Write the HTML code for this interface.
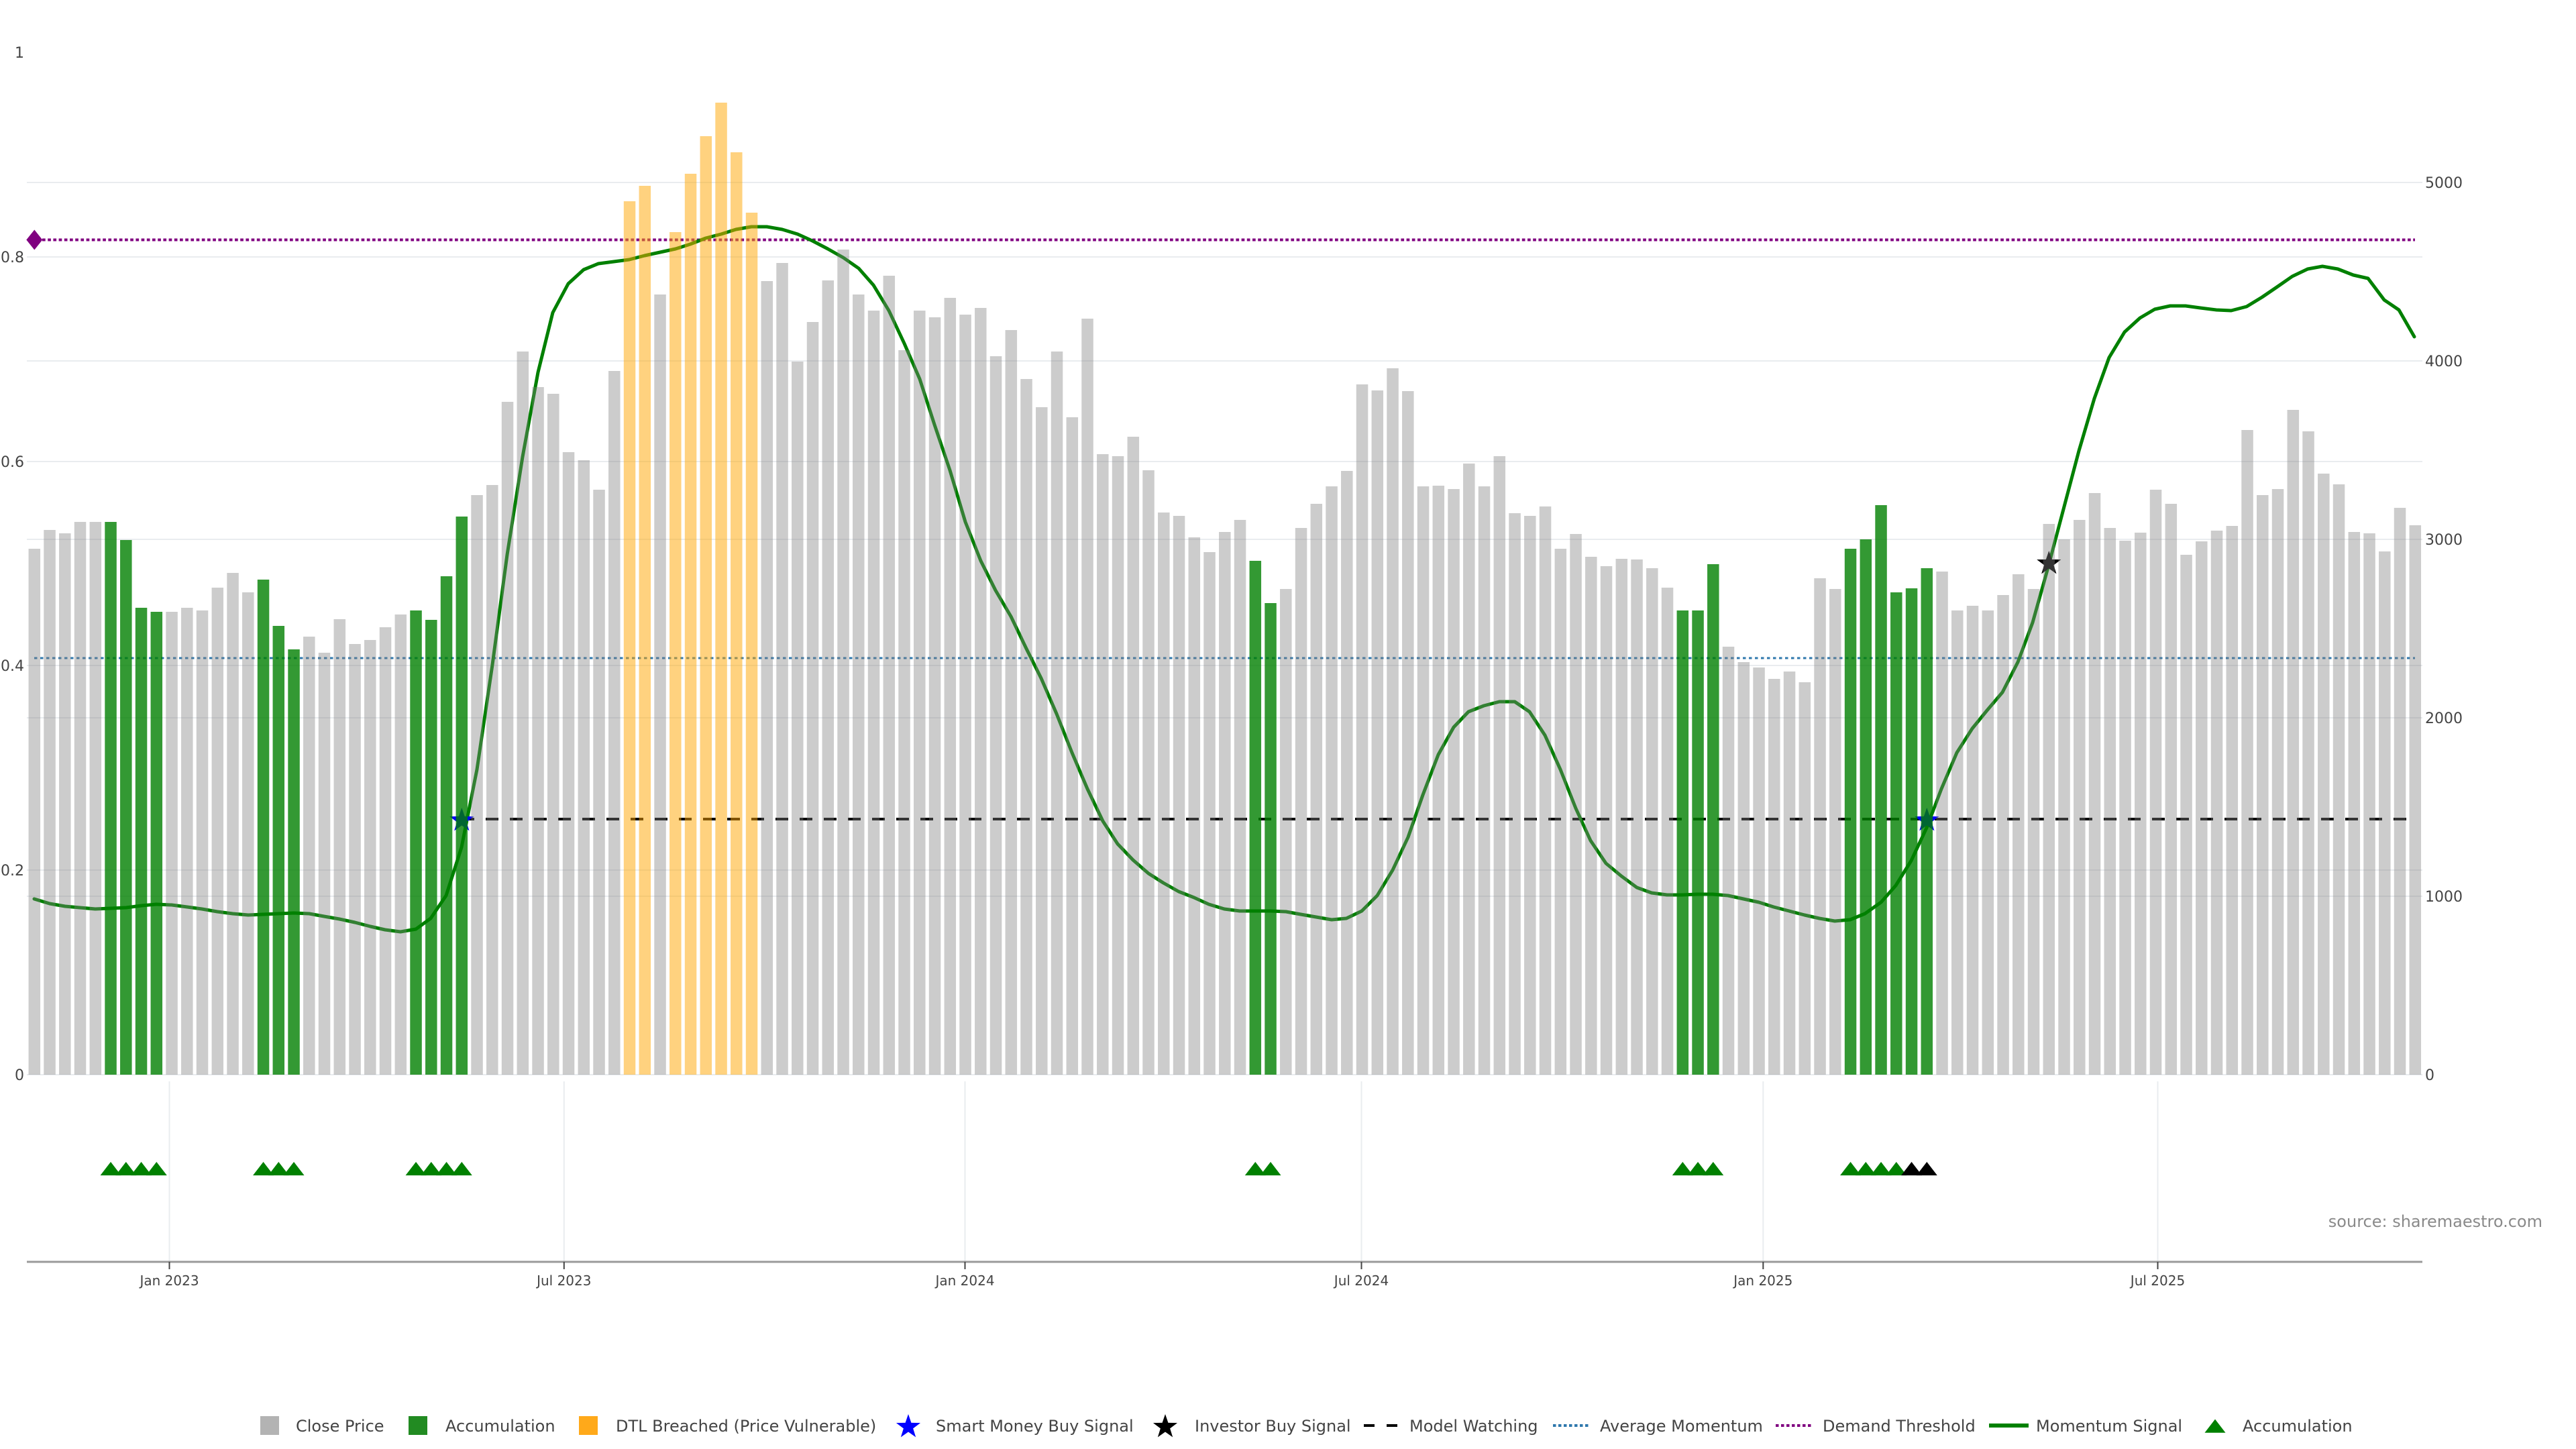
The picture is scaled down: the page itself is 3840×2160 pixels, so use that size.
<!DOCTYPE html>
<html><head><meta charset="utf-8"><style>
html,body{margin:0;padding:0;background:#fff;}
svg{display:block;font-family:"DejaVu Sans","Liberation Sans",sans-serif;}
</style></head><body>
<svg width="3840" height="2160" viewBox="0 0 3840 2160" xmlns="http://www.w3.org/2000/svg">
<rect width="3840" height="2160" fill="#fff"/>
<!-- gridlines -->
<g stroke="#e9ecef" stroke-width="2">
<line x1="40" x2="3611" y1="1602" y2="1602"/>
<line x1="40" x2="3611" y1="1297" y2="1297"/>
<line x1="40" x2="3611" y1="992" y2="992"/>
<line x1="40" x2="3611" y1="688" y2="688"/>
<line x1="40" x2="3611" y1="383" y2="383"/>
<line x1="40" x2="3611" y1="1336" y2="1336"/>
<line x1="40" x2="3611" y1="1070" y2="1070"/>
<line x1="40" x2="3611" y1="804" y2="804"/>
<line x1="40" x2="3611" y1="538" y2="538"/>
<line x1="40" x2="3611" y1="272" y2="272"/>
<line x1="252.5" x2="252.5" y1="1612" y2="1881"/>
<line x1="840.8" x2="840.8" y1="1612" y2="1881"/>
<line x1="1438.5" x2="1438.5" y1="1612" y2="1881"/>
<line x1="2029.5" x2="2029.5" y1="1612" y2="1881"/>
<line x1="2628.3" x2="2628.3" y1="1612" y2="1881"/>
<line x1="3216.5" x2="3216.5" y1="1612" y2="1881"/>
</g>
<!-- horizontal reference lines -->
<line x1="63" x2="3600" y1="357.5" y2="357.5" stroke="#800080" stroke-width="4" stroke-dasharray="4.7 3.5"/>
<line x1="51" x2="3600" y1="981" y2="981" stroke="#2f78ad" stroke-width="3" stroke-dasharray="4.5 4.5"/>
<line x1="688" x2="3600" y1="1221" y2="1221" stroke="#000" stroke-width="4" stroke-dasharray="19 17"/>
<!-- momentum line -->
<polyline fill="none" stroke="#008000" stroke-width="5" stroke-linejoin="round" stroke-linecap="round" points="51,1340 74,1347 97,1351 119,1353 142,1355 165,1354 188,1353 211,1350 233,1348 256,1349 279,1352 301,1355 324,1359 347,1362 370,1364 392,1363 415,1362 438,1361 461,1362 483,1366 506,1370 529,1375 552,1381 574,1386 597,1389 620,1385 642,1369 665,1335 688,1263 711,1147 734,991 756,827 779,681 802,555 824,466 847,423 870,402 892,393 915,390 938,387 961,381 984,376 1007,371 1029,364 1052,355 1075,349 1097,342 1120,338 1143,338 1166,342 1189,349 1211,359 1234,371 1257,384 1280,400 1302,425 1325,463 1348,512 1371,565 1393,633 1416,701 1439,778 1462,836 1484,880 1507,919 1530,967 1552,1011 1575,1064 1598,1122 1621,1176 1644,1224 1666,1258 1689,1282 1712,1302 1734,1316 1757,1329 1780,1338 1802,1348 1825,1355 1848,1358 1871,1358 1894,1358 1917,1359 1939,1363 1962,1367 1985,1371 2007,1369 2030,1358 2053,1335 2076,1297 2099,1248 2121,1185 2144,1125 2167,1084 2189,1061 2212,1052 2235,1046 2258,1046 2280,1061 2303,1096 2326,1147 2349,1205 2371,1253 2394,1287 2417,1306 2440,1323 2462,1331 2485,1334 2508,1334 2530,1333 2553,1333 2576,1335 2599,1340 2622,1345 2644,1352 2667,1358 2690,1364 2712,1369 2735,1373 2758,1371 2780,1362 2804,1345 2826,1320 2849,1283 2872,1234 2894,1176 2917,1122 2940,1086 2962,1059 2985,1032 3008,987 3030,928 3053,846 3076,759 3099,672 3122,594 3144,533 3167,495 3190,474 3212,461 3235,456 3258,456 3280,459 3304,462 3326,463 3349,457 3372,443 3394,428 3417,412 3440,401 3462,397 3485,401 3508,410 3530,415 3554,447 3576,462 3599,502"/>
<!-- markers -->
<path d="M0,-15 L12,0 L0,15 L-12,0 Z" transform="translate(51.3,357.5)" fill="#800080"/>
<path d="M0,-19 L4.41,-6.07 L18.07,-5.87 L7.13,2.32 L11.17,15.37 L0,7.5 L-11.17,15.37 L-7.13,2.32 L-18.07,-5.87 L-4.41,-6.07 Z" transform="translate(688.3,1223)" fill="#0000ff"/>
<path d="M0,-19 L4.41,-6.07 L18.07,-5.87 L7.13,2.32 L11.17,15.37 L0,7.5 L-11.17,15.37 L-7.13,2.32 L-18.07,-5.87 L-4.41,-6.07 Z" transform="translate(2872.3,1223)" fill="#0000ff"/>
<path d="M0,-19 L4.41,-6.07 L18.07,-5.87 L7.13,2.32 L11.17,15.37 L0,7.5 L-11.17,15.37 L-7.13,2.32 L-18.07,-5.87 L-4.41,-6.07 Z" transform="translate(3054.3,840)" fill="#000"/>
<!-- gray bars -->
<g fill="#808080" fill-opacity="0.4">
<rect x="42.55" y="818" width="17.5" height="784"/>
<rect x="65.3" y="790" width="17.5" height="812"/>
<rect x="88.05" y="795" width="17.5" height="807"/>
<rect x="110.8" y="778" width="17.5" height="824"/>
<rect x="133.55" y="778" width="17.5" height="824"/>
<rect x="247.3" y="912" width="17.5" height="690"/>
<rect x="270.05" y="906" width="17.5" height="696"/>
<rect x="292.8" y="910" width="17.5" height="692"/>
<rect x="315.55" y="876" width="17.5" height="726"/>
<rect x="338.3" y="854" width="17.5" height="748"/>
<rect x="361.05" y="883" width="17.5" height="719"/>
<rect x="452.05" y="949" width="17.5" height="653"/>
<rect x="474.8" y="973" width="17.5" height="629"/>
<rect x="497.55" y="923" width="17.5" height="679"/>
<rect x="520.3" y="960" width="17.5" height="642"/>
<rect x="543.05" y="954" width="17.5" height="648"/>
<rect x="565.8" y="935" width="17.5" height="667"/>
<rect x="588.55" y="916" width="17.5" height="686"/>
<rect x="702.3" y="738" width="17.5" height="864"/>
<rect x="725.05" y="723" width="17.5" height="879"/>
<rect x="747.8" y="599" width="17.5" height="1003"/>
<rect x="770.55" y="524" width="17.5" height="1078"/>
<rect x="793.3" y="577" width="17.5" height="1025"/>
<rect x="816.05" y="587" width="17.5" height="1015"/>
<rect x="838.8" y="674" width="17.5" height="928"/>
<rect x="861.55" y="686" width="17.5" height="916"/>
<rect x="884.3" y="730" width="17.5" height="872"/>
<rect x="907.05" y="553" width="17.5" height="1049"/>
<rect x="975.3" y="439" width="17.5" height="1163"/>
<rect x="1134.55" y="419" width="17.5" height="1183"/>
<rect x="1157.3" y="392" width="17.5" height="1210"/>
<rect x="1180.05" y="539" width="17.5" height="1063"/>
<rect x="1202.8" y="480" width="17.5" height="1122"/>
<rect x="1225.55" y="418" width="17.5" height="1184"/>
<rect x="1248.3" y="372" width="17.5" height="1230"/>
<rect x="1271.05" y="439" width="17.5" height="1163"/>
<rect x="1293.8" y="463" width="17.5" height="1139"/>
<rect x="1316.55" y="411" width="17.5" height="1191"/>
<rect x="1339.3" y="522" width="17.5" height="1080"/>
<rect x="1362.05" y="463" width="17.5" height="1139"/>
<rect x="1384.8" y="473" width="17.5" height="1129"/>
<rect x="1407.55" y="444" width="17.5" height="1158"/>
<rect x="1430.3" y="469" width="17.5" height="1133"/>
<rect x="1453.05" y="459" width="17.5" height="1143"/>
<rect x="1475.8" y="531" width="17.5" height="1071"/>
<rect x="1498.55" y="492" width="17.5" height="1110"/>
<rect x="1521.3" y="565" width="17.5" height="1037"/>
<rect x="1544.05" y="607" width="17.5" height="995"/>
<rect x="1566.8" y="524" width="17.5" height="1078"/>
<rect x="1589.55" y="622" width="17.5" height="980"/>
<rect x="1612.3" y="475" width="17.5" height="1127"/>
<rect x="1635.05" y="677" width="17.5" height="925"/>
<rect x="1657.8" y="680" width="17.5" height="922"/>
<rect x="1680.55" y="651" width="17.5" height="951"/>
<rect x="1703.3" y="701" width="17.5" height="901"/>
<rect x="1726.05" y="764" width="17.5" height="838"/>
<rect x="1748.8" y="769" width="17.5" height="833"/>
<rect x="1771.55" y="801" width="17.5" height="801"/>
<rect x="1794.3" y="823" width="17.5" height="779"/>
<rect x="1817.05" y="793" width="17.5" height="809"/>
<rect x="1839.8" y="775" width="17.5" height="827"/>
<rect x="1908.05" y="878" width="17.5" height="724"/>
<rect x="1930.8" y="787" width="17.5" height="815"/>
<rect x="1953.55" y="751" width="17.5" height="851"/>
<rect x="1976.3" y="725" width="17.5" height="877"/>
<rect x="1999.05" y="702" width="17.5" height="900"/>
<rect x="2021.8" y="573" width="17.5" height="1029"/>
<rect x="2044.55" y="582" width="17.5" height="1020"/>
<rect x="2067.3" y="549" width="17.5" height="1053"/>
<rect x="2090.05" y="583" width="17.5" height="1019"/>
<rect x="2112.8" y="725" width="17.5" height="877"/>
<rect x="2135.55" y="724" width="17.5" height="878"/>
<rect x="2158.3" y="729" width="17.5" height="873"/>
<rect x="2181.05" y="691" width="17.5" height="911"/>
<rect x="2203.8" y="725" width="17.5" height="877"/>
<rect x="2226.55" y="680" width="17.5" height="922"/>
<rect x="2249.3" y="765" width="17.5" height="837"/>
<rect x="2272.05" y="769" width="17.5" height="833"/>
<rect x="2294.8" y="755" width="17.5" height="847"/>
<rect x="2317.55" y="818" width="17.5" height="784"/>
<rect x="2340.3" y="796" width="17.5" height="806"/>
<rect x="2363.05" y="830" width="17.5" height="772"/>
<rect x="2385.8" y="844" width="17.5" height="758"/>
<rect x="2408.55" y="833" width="17.5" height="769"/>
<rect x="2431.3" y="834" width="17.5" height="768"/>
<rect x="2454.05" y="847" width="17.5" height="755"/>
<rect x="2476.8" y="876" width="17.5" height="726"/>
<rect x="2567.8" y="964" width="17.5" height="638"/>
<rect x="2590.55" y="987" width="17.5" height="615"/>
<rect x="2613.3" y="995" width="17.5" height="607"/>
<rect x="2636.05" y="1012" width="17.5" height="590"/>
<rect x="2658.8" y="1001" width="17.5" height="601"/>
<rect x="2681.55" y="1017" width="17.5" height="585"/>
<rect x="2704.3" y="862" width="17.5" height="740"/>
<rect x="2727.05" y="878" width="17.5" height="724"/>
<rect x="2886.3" y="852" width="17.5" height="750"/>
<rect x="2909.05" y="910" width="17.5" height="692"/>
<rect x="2931.8" y="903" width="17.5" height="699"/>
<rect x="2954.55" y="910" width="17.5" height="692"/>
<rect x="2977.3" y="887" width="17.5" height="715"/>
<rect x="3000.05" y="856" width="17.5" height="746"/>
<rect x="3022.8" y="878" width="17.5" height="724"/>
<rect x="3045.55" y="781" width="17.5" height="821"/>
<rect x="3068.3" y="804" width="17.5" height="798"/>
<rect x="3091.05" y="775" width="17.5" height="827"/>
<rect x="3113.8" y="735" width="17.5" height="867"/>
<rect x="3136.55" y="787" width="17.5" height="815"/>
<rect x="3159.3" y="806" width="17.5" height="796"/>
<rect x="3182.05" y="794" width="17.5" height="808"/>
<rect x="3204.8" y="730" width="17.5" height="872"/>
<rect x="3227.55" y="751" width="17.5" height="851"/>
<rect x="3250.3" y="827" width="17.5" height="775"/>
<rect x="3273.05" y="807" width="17.5" height="795"/>
<rect x="3295.8" y="791" width="17.5" height="811"/>
<rect x="3318.55" y="784" width="17.5" height="818"/>
<rect x="3341.3" y="641" width="17.5" height="961"/>
<rect x="3364.05" y="738" width="17.5" height="864"/>
<rect x="3386.8" y="729" width="17.5" height="873"/>
<rect x="3409.55" y="611" width="17.5" height="991"/>
<rect x="3432.3" y="643" width="17.5" height="959"/>
<rect x="3455.05" y="706" width="17.5" height="896"/>
<rect x="3477.8" y="722" width="17.5" height="880"/>
<rect x="3500.55" y="793" width="17.5" height="809"/>
<rect x="3523.3" y="795" width="17.5" height="807"/>
<rect x="3546.05" y="822" width="17.5" height="780"/>
<rect x="3568.8" y="757" width="17.5" height="845"/>
<rect x="3591.55" y="783" width="17.5" height="819"/>
</g>
<!-- green bars -->
<g fill="#008000" fill-opacity="0.8">
<rect x="156.3" y="778" width="17.5" height="824"/>
<rect x="179.05" y="805" width="17.5" height="797"/>
<rect x="201.8" y="906" width="17.5" height="696"/>
<rect x="224.55" y="912" width="17.5" height="690"/>
<rect x="383.8" y="864" width="17.5" height="738"/>
<rect x="406.55" y="933" width="17.5" height="669"/>
<rect x="429.3" y="968" width="17.5" height="634"/>
<rect x="611.3" y="910" width="17.5" height="692"/>
<rect x="634.05" y="924" width="17.5" height="678"/>
<rect x="656.8" y="859" width="17.5" height="743"/>
<rect x="679.55" y="770" width="17.5" height="832"/>
<rect x="1862.55" y="836" width="17.5" height="766"/>
<rect x="1885.3" y="899" width="17.5" height="703"/>
<rect x="2499.55" y="910" width="17.5" height="692"/>
<rect x="2522.3" y="910" width="17.5" height="692"/>
<rect x="2545.05" y="841" width="17.5" height="761"/>
<rect x="2749.8" y="818" width="17.5" height="784"/>
<rect x="2772.55" y="804" width="17.5" height="798"/>
<rect x="2795.3" y="753" width="17.5" height="849"/>
<rect x="2818.05" y="883" width="17.5" height="719"/>
<rect x="2840.8" y="877" width="17.5" height="725"/>
<rect x="2863.55" y="847" width="17.5" height="755"/>
</g>
<!-- orange bars -->
<g fill="#ffa500" fill-opacity="0.5">
<rect x="929.8" y="300" width="17.5" height="1302"/>
<rect x="952.55" y="277" width="17.5" height="1325"/>
<rect x="998.05" y="346" width="17.5" height="1256"/>
<rect x="1020.8" y="259" width="17.5" height="1343"/>
<rect x="1043.55" y="203" width="17.5" height="1399"/>
<rect x="1066.3" y="153" width="17.5" height="1449"/>
<rect x="1089.05" y="227" width="17.5" height="1375"/>
<rect x="1111.8" y="317" width="17.5" height="1285"/>
</g>
<!-- lower panel triangles -->
<g fill="#008000">
<path d="M-15.5,6.7 H15.5 L0,-13.4 Z" transform="translate(165.05,1745.4)"/>
<path d="M-15.5,6.7 H15.5 L0,-13.4 Z" transform="translate(187.8,1745.4)"/>
<path d="M-15.5,6.7 H15.5 L0,-13.4 Z" transform="translate(210.55,1745.4)"/>
<path d="M-15.5,6.7 H15.5 L0,-13.4 Z" transform="translate(233.3,1745.4)"/>
<path d="M-15.5,6.7 H15.5 L0,-13.4 Z" transform="translate(392.55,1745.4)"/>
<path d="M-15.5,6.7 H15.5 L0,-13.4 Z" transform="translate(415.3,1745.4)"/>
<path d="M-15.5,6.7 H15.5 L0,-13.4 Z" transform="translate(438.05,1745.4)"/>
<path d="M-15.5,6.7 H15.5 L0,-13.4 Z" transform="translate(620.05,1745.4)"/>
<path d="M-15.5,6.7 H15.5 L0,-13.4 Z" transform="translate(642.8,1745.4)"/>
<path d="M-15.5,6.7 H15.5 L0,-13.4 Z" transform="translate(665.55,1745.4)"/>
<path d="M-15.5,6.7 H15.5 L0,-13.4 Z" transform="translate(688.3,1745.4)"/>
<path d="M-15.5,6.7 H15.5 L0,-13.4 Z" transform="translate(1871.3,1745.4)"/>
<path d="M-15.5,6.7 H15.5 L0,-13.4 Z" transform="translate(1894.05,1745.4)"/>
<path d="M-15.5,6.7 H15.5 L0,-13.4 Z" transform="translate(2508.3,1745.4)"/>
<path d="M-15.5,6.7 H15.5 L0,-13.4 Z" transform="translate(2531.05,1745.4)"/>
<path d="M-15.5,6.7 H15.5 L0,-13.4 Z" transform="translate(2553.8,1745.4)"/>
<path d="M-15.5,6.7 H15.5 L0,-13.4 Z" transform="translate(2758.55,1745.4)"/>
<path d="M-15.5,6.7 H15.5 L0,-13.4 Z" transform="translate(2781.3,1745.4)"/>
<path d="M-15.5,6.7 H15.5 L0,-13.4 Z" transform="translate(2804.05,1745.4)"/>
<path d="M-15.5,6.7 H15.5 L0,-13.4 Z" transform="translate(2826.8,1745.4)"/>
</g>
<g fill="#000">
<path d="M-15.5,6.7 H15.5 L0,-13.4 Z" transform="translate(2849.55,1745.4)"/>
<path d="M-15.5,6.7 H15.5 L0,-13.4 Z" transform="translate(2872.3,1745.4)"/>
</g>
<!-- x axis -->
<line x1="40" x2="3611" y1="1881" y2="1881" stroke="#9a9a9a" stroke-width="3"/>
<g stroke="#444" stroke-width="2">
<line x1="252.5" x2="252.5" y1="1881" y2="1892"/>
<line x1="840.8" x2="840.8" y1="1881" y2="1892"/>
<line x1="1438.5" x2="1438.5" y1="1881" y2="1892"/>
<line x1="2029.5" x2="2029.5" y1="1881" y2="1892"/>
<line x1="2628.3" x2="2628.3" y1="1881" y2="1892"/>
<line x1="3216.5" x2="3216.5" y1="1881" y2="1892"/>
</g>
<g fill="#444" font-size="20" text-anchor="middle">
<text x="252.5" y="1916">Jan 2023</text>
<text x="840.8" y="1916">Jul 2023</text>
<text x="1438.5" y="1916">Jan 2024</text>
<text x="2029.5" y="1916">Jul 2024</text>
<text x="2628.3" y="1916">Jan 2025</text>
<text x="3216.5" y="1916">Jul 2025</text>
</g>
<!-- left axis labels -->
<g fill="#444" font-size="22" text-anchor="end">
<text x="36" y="1610">0</text>
<text x="36" y="1305">0.2</text>
<text x="36" y="1000">0.4</text>
<text x="36" y="696">0.6</text>
<text x="36" y="391">0.8</text>
<text x="36" y="86">1</text>
</g>
<!-- right axis labels -->
<g fill="#444" font-size="22" text-anchor="start">
<text x="3615" y="1610">0</text>
<text x="3615" y="1344">1000</text>
<text x="3615" y="1078">2000</text>
<text x="3615" y="812">3000</text>
<text x="3615" y="546">4000</text>
<text x="3615" y="280">5000</text>
</g>
<text x="3790" y="1829" fill="#8a8a8a" font-size="24" text-anchor="end">source: sharemaestro.com</text>
<!-- legend -->
<rect x="388" y="2111" width="28" height="28" fill="#b3b3b3"/>
<rect x="609" y="2111" width="28" height="28" fill="#228b22"/>
<rect x="863" y="2111" width="28" height="28" fill="#ffa91a"/>
<path d="M0,-19 L4.41,-6.07 L18.07,-5.87 L7.13,2.32 L11.17,15.37 L0,7.5 L-11.17,15.37 L-7.13,2.32 L-18.07,-5.87 L-4.41,-6.07 Z" transform="translate(1354,2127)" fill="#0000ff"/>
<path d="M0,-19 L4.41,-6.07 L18.07,-5.87 L7.13,2.32 L11.17,15.37 L0,7.5 L-11.17,15.37 L-7.13,2.32 L-18.07,-5.87 L-4.41,-6.07 Z" transform="translate(1737,2127)" fill="#000"/>
<line x1="2033" x2="2088" y1="2125" y2="2125" stroke="#000" stroke-width="4" stroke-dasharray="16 18"/>
<line x1="2315" x2="2371" y1="2125" y2="2125" stroke="#2f78ad" stroke-width="4" stroke-dasharray="4.5 3.5"/>
<line x1="2647" x2="2702" y1="2125" y2="2125" stroke="#800080" stroke-width="4" stroke-dasharray="4.5 3.5"/>
<line x1="2965" x2="3024" y1="2125" y2="2125" stroke="#008000" stroke-width="6"/>
<path d="M-15.5,6.7 H15.5 L0,-13.4 Z" transform="translate(3302,2129)" fill="#008000"/>
<g fill="#444" font-size="24">
<text x="441" y="2134">Close Price</text>
<text x="664" y="2134">Accumulation</text>
<text x="918" y="2134">DTL Breached (Price Vulnerable)</text>
<text x="1395" y="2134">Smart Money Buy Signal</text>
<text x="1781" y="2134">Investor Buy Signal</text>
<text x="2101" y="2134">Model Watching</text>
<text x="2385" y="2134">Average Momentum</text>
<text x="2717" y="2134">Demand Threshold</text>
<text x="3035" y="2134">Momentum Signal</text>
<text x="3343" y="2134">Accumulation</text>
</g>
</svg>
</body></html>
